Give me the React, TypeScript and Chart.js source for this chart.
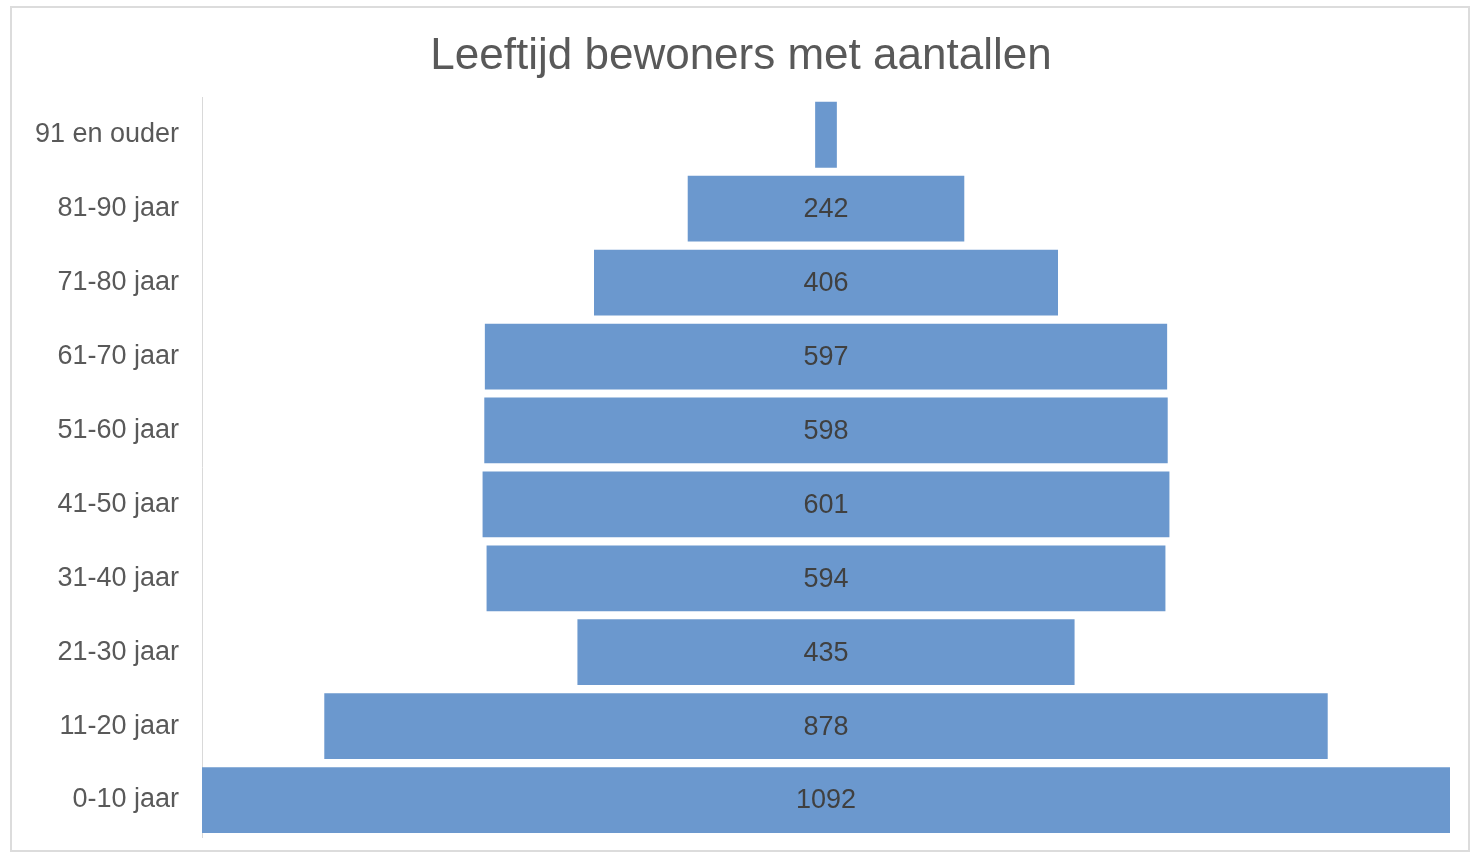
import React, { useEffect, useRef } from "react";
import { Chart, registerables } from "chart.js";

Chart.register(...registerables);

const TITLE = "Leeftijd bewoners met aantallen";
const CATEGORIES = [
  "91 en ouder",
  "81-90 jaar",
  "71-80 jaar",
  "61-70 jaar",
  "51-60 jaar",
  "41-50 jaar",
  "31-40 jaar",
  "21-30 jaar",
  "11-20 jaar",
  "0-10 jaar",
];
const COUNTS = [19, 242, 406, 597, 598, 601, 594, 435, 878, 1092];
const SHOW_LABEL = [false, true, true, true, true, true, true, true, true, true];

const FONT = "'Liberation Sans', Arial, sans-serif";

const valueLabels = {
  id: "valueLabels",
  afterDatasetsDraw(chart: any) {
    const ctx = chart.ctx;
    const meta = chart.getDatasetMeta(0);
    ctx.save();
    ctx.font = `27px ${FONT}`;
    ctx.fillStyle = "#404040";
    ctx.textAlign = "center";
    ctx.textBaseline = "middle";
    meta.data.forEach((bar: any, i: number) => {
      if (!SHOW_LABEL[i]) return;
      const cx = chart.scales.x.getPixelForValue(0);
      ctx.fillText(String(COUNTS[i]), cx, bar.y + 1);
    });
    ctx.restore();
  },
};

export default function App() {
  const ref = useRef<HTMLCanvasElement | null>(null);

  useEffect(() => {
    if (!ref.current) return;
    const maxV = Math.max(...COUNTS);
    const chart = new Chart(ref.current, {
      type: "bar",
      data: {
        labels: CATEGORIES,
        datasets: [
          {
            data: COUNTS.map((v) => [-v / 2, v / 2]) as any,
            backgroundColor: "#6b98ce",
            borderWidth: 0,
            barPercentage: 0.89,
            categoryPercentage: 1,
          },
        ],
      },
      options: {
        indexAxis: "y",
        animation: false,
        responsive: false,
        maintainAspectRatio: false,
        layout: { padding: { top: 0, right: 20, bottom: 15, left: 20 } },
        plugins: {
          legend: { display: false },
          tooltip: { enabled: false },
          title: {
            display: true,
            text: TITLE,
            color: "#595959",
            font: { family: FONT, size: 44, weight: "normal" },
            padding: { top: 22, bottom: 15 },
          },
        },
        scales: {
          x: {
            display: false,
            min: -maxV / 2,
            max: maxV / 2,
          },
          y: {
            grid: { display: false },
            border: { display: true, color: "#d9d9d9", width: 1 },
            ticks: {
              color: "#595959",
              font: { family: FONT, size: 27 },
              padding: 15,
            },
            afterFit(scale: any) {
              scale.width = 170;
              scale.paddingTop = 0;
              scale.paddingBottom = 0;
            },
          },
        },
      },
      plugins: [valueLabels],
    });
    return () => chart.destroy();
  }, []);

  return (
    <div
      style={{
        position: "fixed",
        left: 0,
        top: 0,
        width: 1475,
        height: 855,
        background: "#ffffff",
      }}
    >
      <div
        style={{
          position: "absolute",
          left: 10,
          top: 6,
          width: 1460,
          height: 846,
          border: "2px solid #dcdcdc",
          boxSizing: "border-box",
        }}
      />
      <canvas
        ref={ref}
        width={1458}
        height={844}
        style={{ position: "absolute", left: 12, top: 8, width: 1458, height: 844 }}
      />
    </div>
  );
}
